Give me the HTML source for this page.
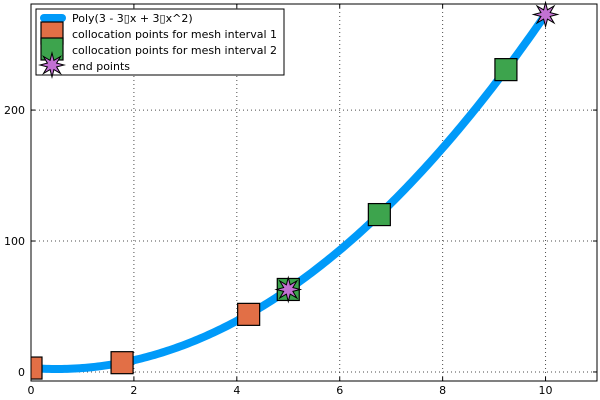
<!DOCTYPE html>
<html><head><meta charset="utf-8"><style>
html,body{margin:0;padding:0;background:#fff;}
svg{display:block;font-family:"DejaVu Sans","Liberation Sans",sans-serif;}
</style></head><body>
<svg id="chart" width="600" height="400"></svg>
<script>
const xTicks=[0,2,4,6,8,10];
const yTicks=[0,100,200];
const interval1X=[0,1.77,4.23];
const interval2X=[5,6.77,9.23];
const endX=[0,5,10];
const polyCoeffs=[3,-3,3];
const xDomain=[0,11];
const yDomain=[-6.9,281];

const L=31,R=597,T=4,B=381;
const sx=v=>L+(v-xDomain[0])/(xDomain[1]-xDomain[0])*(R-L);
const sy=v=>B-(v-yDomain[0])/(yDomain[1]-yDomain[0])*(B-T);
const poly=x=>polyCoeffs.reduce((s,c,i)=>s+c*Math.pow(x,i),0);
const NS="http://www.w3.org/2000/svg";
const svg=document.getElementById('chart');
function el(tag,attrs,parent){const e=document.createElementNS(NS,tag);for(const k in attrs)e.setAttribute(k,attrs[k]);(parent||svg).appendChild(e);return e;}
const defs=el('defs',{});
const cp=el('clipPath',{id:'clip'},defs);el('rect',{x:L,y:T,width:R-L,height:B-T},cp);

const grid=el('g',{});


xTicks.forEach(t=>{el('line',{x1:sx(t),x2:sx(t),y1:T,y2:B,stroke:'#000','stroke-width':1,'stroke-dasharray':'1,3',opacity:0.7},grid);});
yTicks.forEach(t=>{el('line',{x1:L,x2:R,y1:sy(t),y2:sy(t),stroke:'#000','stroke-width':1,'stroke-dasharray':'1,3',opacity:0.7},grid);});

const xt=el('g',{});


xTicks.forEach(t=>{
 el('line',{x1:sx(t),x2:sx(t),y1:B,y2:B-4,stroke:'#000'},xt);
 el('line',{x1:sx(t),x2:sx(t),y1:T,y2:T+4,stroke:'#000'},xt);
 const tx=el('text',{x:sx(t),y:B+13,'font-size':11,'text-anchor':'middle'},xt);tx.textContent=t;
});
const yt=el('g',{});


yTicks.forEach(t=>{
 el('line',{x1:L,x2:L+4,y1:sy(t),y2:sy(t),stroke:'#000'},yt);
 el('line',{x1:R,x2:R-4,y1:sy(t),y2:sy(t),stroke:'#000'},yt);
 const tx=el('text',{x:L-6,y:sy(t)+4,'font-size':11,'text-anchor':'end'},yt);tx.textContent=t;
});

const plot=el('g',{'clip-path':'url(#clip)'});
let d='';for(let i=0;i<=200;i++){const x=i/200*10;d+=(i?'L':'M')+sx(x).toFixed(2)+','+sy(poly(x)).toFixed(2);}
const line=el('path',{d:d,fill:'none',stroke:'#009af9','stroke-width':8,'stroke-linecap':'round'},plot);


function sq(x,y,c,g){el('rect',{x:x-11,y:y-11,width:22,height:22,fill:c,stroke:'#000','stroke-width':1.2},g);}
function star(x,y,g){let p='';for(let i=0;i<16;i++){const a=i*Math.PI/8-Math.PI/2;const r=i%2?5:12;p+=(x+r*Math.cos(a)).toFixed(2)+','+(y+r*Math.sin(a)).toFixed(2)+' ';}el('polygon',{points:p,fill:'#c271d2',stroke:'#000','stroke-width':1},g);}
const g1=el('g',{},plot);


interval1X.forEach(x=>sq(sx(x),sy(poly(x)),'#e26f46',g1));
const g2=el('g',{},plot);


interval2X.forEach(x=>sq(sx(x),sy(poly(x)),'#3da44d',g2));
const g3=el('g',{});


endX.filter(x=>x>0).forEach(x=>star(sx(x),sy(poly(x)),g3));

el('rect',{x:L,y:T,width:R-L,height:B-T,fill:'none',stroke:'#000','stroke-width':1});

const lg=el('g',{});


el('rect',{x:36,y:9,width:248,height:66,fill:'#fff',stroke:'#000','stroke-width':1},lg);
el('line',{x1:44,x2:62,y1:18,y2:18,stroke:'#009af9','stroke-width':8,'stroke-linecap':'round'},lg);
sq(52,33,'#e26f46',lg);sq(52,49,'#3da44d',lg);star(52,65,lg);
const labels=['Poly(3 - 3▯x + 3▯x^2)','collocation points for mesh interval 1','collocation points for mesh interval 2','end points'];
labels.forEach((s,i)=>{const t=el('text',{x:72,y:22+i*16,'font-size':11},lg);t.textContent=s;});
</script>
</body></html>
